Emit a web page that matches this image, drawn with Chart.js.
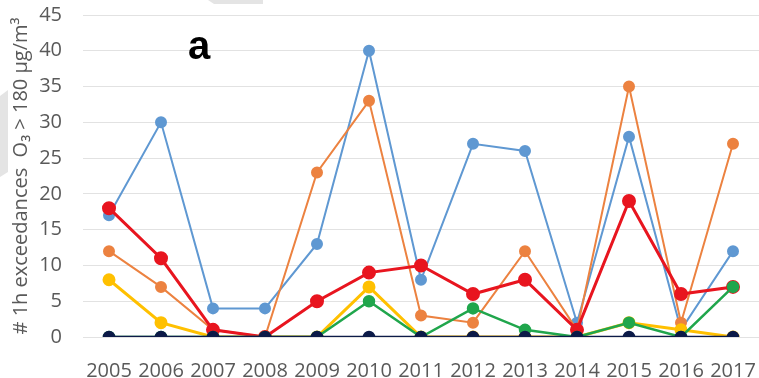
<!DOCTYPE html>
<html>
<head>
<meta charset="utf-8">
<script src="https://cdn.jsdelivr.net/npm/chart.js@4.4.1/dist/chart.umd.min.js"></script>
<style>
  html, body { margin: 0; padding: 0; background: #ffffff; }
  #wrap { width: 759px; height: 378px; position: relative; }
</style>
</head>
<body>
<div id="wrap"><canvas id="chart" width="759" height="378"></canvas></div>
<script>
// Yearly counts of 1-hour ozone exceedances per station
const years = ['2005', '2006', '2007', '2008', '2009', '2010', '2011', '2012', '2013', '2014', '2015', '2016', '2017'];
const blueSeries   = [17, 30, 4, 4, 13, 40, 8, 27, 26, 2, 28, 1, 12];
const orangeSeries = [12, 7, 1, 0, 23, 33, 3, 2, 12, 1, 35, 2, 27];
const redSeries    = [18, 11, 1, 0, 5, 9, 10, 6, 8, 1, 19, 6, 7];
const yellowSeries = [8, 2, 0, 0, 0, 7, 0, 0, 0, 0, 2, 1, 0];
const greenSeries  = [0, 0, 0, 0, 0, 5, 0, 4, 1, 0, 2, 0, 7];
const navySeries   = [0, 0, 0, 0, 0, 0, 0, 0, 0, 0, 0, 0, 0];
const yTickValues  = [0, 5, 10, 15, 20, 25, 30, 35, 40, 45];
const yTitle = '# 1h exceedances  O\u2083 > 180 \u00b5g/m\u00b3';
const panelLabel = 'a';

function series(data, color, width, radius, order) {
  return {
    data: data,
    borderColor: color,
    backgroundColor: color,
    pointBackgroundColor: color,
    pointBorderColor: color,
    borderWidth: width,
    pointRadius: radius,
    pointHoverRadius: radius,
    tension: 0,
    order: order
  };
}

// light grey shapes around the plot and the panel letter
const decorations = {
  id: 'decorations',
  beforeDraw(chart) {
    const ctx = chart.ctx;
    ctx.save();
    ctx.fillStyle = '#e4e4e4';
    ctx.beginPath();
    ctx.moveTo(0, 96); ctx.lineTo(8, 90); ctx.lineTo(8, 172); ctx.lineTo(0, 177);
    ctx.closePath(); ctx.fill();
    ctx.beginPath();
    ctx.moveTo(208, 0); ctx.lineTo(263, 0); ctx.lineTo(263, 4); ctx.lineTo(214, 4);
    ctx.closePath(); ctx.fill();
    ctx.restore();
  },
  afterDraw(chart) {
    const ctx = chart.ctx;
    ctx.save();
    ctx.fillStyle = '#000000';
    ctx.font = 'bold 40px "Liberation Sans", Arial, sans-serif';
    ctx.textAlign = 'center';
    ctx.textBaseline = 'alphabetic';
    ctx.fillText(panelLabel, 199, 59);
    ctx.restore();
  }
};

new Chart(document.getElementById('chart'), {
  type: 'line',
  data: {
    labels: years,
    datasets: [
      series(navySeries,   '#0c1a48', 2.5, 5,   0),
      series(greenSeries,  '#20a64c', 2.5, 5,   1),
      series(redSeries,    '#e8151f', 3,   5.5, 2),
      series(yellowSeries, '#ffc000', 3,   5,   3),
      series(orangeSeries, '#ec8240', 2,   5,   4),
      series(blueSeries,   '#5f98d2', 2,   5,   5)
    ]
  },
  options: {
    responsive: false,
    animation: false,
    events: [],
    layout: { autoPadding: false, padding: { top: 15, right: 0, bottom: 0, left: 0 } },
    plugins: {
      legend: { display: false },
      tooltip: { enabled: false }
    },
    scales: {
      x: {
        type: 'category',
        offset: true,
        grid: { display: false, drawTicks: false },
        border: { display: false },
        ticks: {
          color: '#595959',
          font: { family: '"Open Sans", sans-serif', size: 20 },
          padding: 22,
          maxRotation: 0,
          autoSkip: false
        },
        afterFit(scale) {
          scale.height = 41;
          scale.paddingLeft = 0;
          scale.paddingRight = 0;
        }
      },
      y: {
        min: 0,
        max: 45,
        afterBuildTicks(scale) { scale.ticks = yTickValues.map(v => ({ value: v })); },
        grid: { color: '#e2e2e2', lineWidth: 1, drawTicks: false },
        border: { display: false },
        ticks: {
          color: '#595959',
          font: { family: '"Open Sans", sans-serif', size: 20 },
          padding: 21
        },
        title: {
          display: true,
          text: yTitle,
          color: '#595959',
          font: { family: '"Open Sans", sans-serif', size: 20 },
          padding: { top: 9, bottom: 0 }
        },
        afterFit(scale) {
          scale.width = 83;
          scale.paddingTop = 0;
          scale.paddingBottom = 0;
        }
      }
    }
  },
  plugins: [decorations]
});
</script>
</body>
</html>
